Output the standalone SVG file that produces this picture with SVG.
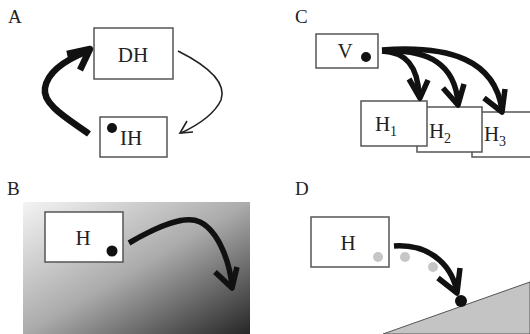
<svg xmlns="http://www.w3.org/2000/svg" width="530" height="334" viewBox="0 0 530 334">
<defs>
<linearGradient id="grad" x1="0" y1="0" x2="1" y2="1">
<stop offset="0" stop-color="#f4f4f4"/>
<stop offset="0.5" stop-color="#ababab"/>
<stop offset="1" stop-color="#262626"/>
</linearGradient>
<style>
.box{fill:#fff;stroke:#555;stroke-width:1.5}
.lbl{font-family:"Liberation Serif","Times New Roman",serif;font-size:19px;fill:#222}
.txt{font-family:"Liberation Serif","Times New Roman",serif;font-size:21px;fill:#222}
.sub{font-family:"Liberation Serif","Times New Roman",serif;font-size:14px;fill:#222}
.thick{fill:none;stroke:#111;stroke-width:5.5;stroke-linejoin:round}
.thin{fill:none;stroke:#222;stroke-width:1.6}
.dot{fill:#111}
.gdot{fill:#c6c6c6}
</style>
</defs>
<rect width="530" height="334" fill="#fff"/>
<g id="labels">
<text class="lbl" x="8" y="23">A</text>
<text class="lbl" x="295" y="23">C</text>
<text class="lbl" x="7" y="195">B</text>
<text class="lbl" x="295" y="195">D</text>
</g>
<rect id="gradient-field" x="23" y="202" width="227" height="132" fill="url(#grad)"/>
<polygon id="slope" points="383,334 530,282 530,334" fill="#c4c4c4" stroke="#555" stroke-width="1"/>
<g id="node-DH"><rect class="box" x="94" y="28" width="79" height="51"/><text class="txt" x="133" y="62" text-anchor="middle">DH</text></g>
<g id="node-IH"><rect class="box" x="100" y="117" width="67" height="40"/><circle class="dot" cx="112" cy="128" r="5"/><text class="txt" x="131" y="145" text-anchor="middle">IH</text></g>
<g id="node-V"><rect class="box" x="316" y="34" width="62" height="34"/><text class="txt" x="345" y="58" text-anchor="middle">V</text><circle class="dot" cx="366" cy="57" r="5"/></g>
<g id="node-H3"><rect class="box" x="472" y="112" width="70" height="45"/><text class="txt" x="484" y="141">H</text><text class="sub" x="499" y="146">3</text></g>
<g id="node-H2"><rect class="box" x="417" y="107" width="65" height="45"/><text class="txt" x="429" y="138">H</text><text class="sub" x="444" y="143">2</text></g>
<g id="node-H1"><rect class="box" x="361" y="101" width="66" height="45"/><text class="txt" x="375" y="131">H</text><text class="sub" x="390" y="136">1</text></g>
<g id="node-HB"><rect class="box" x="45" y="212" width="78" height="50"/><text class="txt" x="83" y="245" text-anchor="middle">H</text><circle class="dot" cx="112" cy="251" r="5.5"/></g>
<g id="node-HD"><rect class="box" x="311" y="217" width="78" height="50"/><text class="txt" x="348" y="250" text-anchor="middle">H</text><circle class="gdot" cx="378" cy="257" r="5"/></g>
<g id="dots-D"><circle class="gdot" cx="405" cy="257" r="5"/><circle class="gdot" cx="433" cy="267" r="5"/><circle class="dot" cx="461" cy="301" r="6"/></g>
<g id="connectors">
<path class="thick" style="stroke-width:6.5" d="M89,134 C70,120 42,105 45,88 C48,70 70,58 88,51"/>
<path class="thick" style="stroke-width:6.5" d="M67,54 L90,49 L80,70"/>
<path class="thin" d="M178,51 C200,62 228,80 221,100 C214,115 198,125 181,133"/>
<path class="thin" d="M187,121 L180,133 L193,132"/>
<path class="thick" d="M382,51 C405,52 418,65 419,96"/>
<path class="thick" d="M409,79 L420,98 L428,80"/>
<path class="thick" d="M382,51 C430,49 455,65 458,103"/>
<path class="thick" d="M443,88 L458,105 L464,84"/>
<path class="thick" d="M382,50 C450,45 495,60 502,110"/>
<path class="thick" d="M484,98 L502,112 L505,89"/>
<path class="thick" d="M129,243 C160,225 185,215 200,222 C220,232 230,265 232,286"/>
<path class="thick" d="M215,272 L232,288 L237,267"/>
<path class="thick" d="M394,246 C425,244 450,260 457,291"/>
<path class="thick" d="M438,278 L457,293 L460,268"/>
</g>
</svg>
